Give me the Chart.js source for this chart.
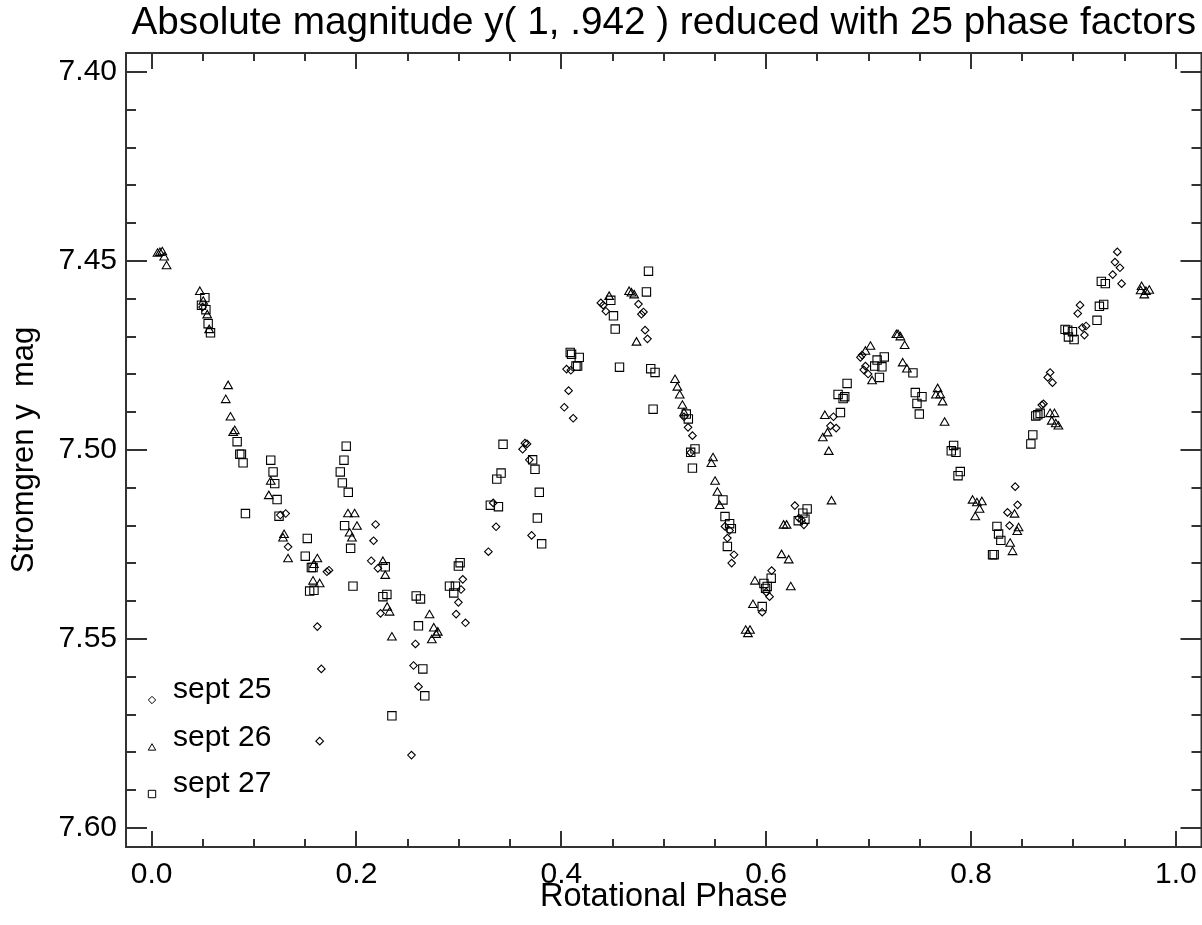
<!DOCTYPE html>
<html><head><meta charset="utf-8">
<script src="https://cdn.jsdelivr.net/npm/chart.js@4.4.1/dist/chart.umd.min.js"></script>
<style>html,body{margin:0;padding:0;background:#fff;}canvas{display:block;}</style>
</head><body>
<canvas id="c" width="1202" height="925"></canvas>
<script>
// ---- data: [rotational phase, Stromgren y mag] ----
const sept25 = [
[0.0497,7.4622],[0.1257,7.5172],[0.1309,7.5168],[0.1332,7.5256],[0.1712,7.5322],[0.1732,7.5318],
[0.1618,7.5467],[0.1657,7.5579],[0.1641,7.5770],[0.2187,7.5197],[0.2167,7.5240],[0.2144,7.5293],
[0.2209,7.5313],[0.2235,7.5432],[0.2576,7.5513],[0.2557,7.5570],[0.2606,7.5626],[0.2537,7.5807],
[0.3038,7.5342],[0.3021,7.5369],[0.2995,7.5403],[0.2973,7.5434],[0.3064,7.5457],[0.3288,7.5269],
[0.3335,7.5140],[0.3363,7.5203],[0.3645,7.4982],[0.3622,7.4998],[0.3665,7.4984],[0.3688,7.5026],
[0.3710,7.5226],[0.4051,7.4786],[0.4093,7.4789],[0.4071,7.4843],[0.4029,7.4887],[0.4116,7.4916],
[0.4386,7.4611],[0.4409,7.4617],[0.4435,7.4633],[0.4753,7.4614],[0.4782,7.4641],[0.4802,7.4635],
[0.4818,7.4683],[0.4841,7.4706],[0.5198,7.4912],[0.5237,7.4940],[0.5280,7.4962],[0.5263,7.5007],
[0.5598,7.5202],[0.5643,7.5213],[0.5621,7.5233],[0.5686,7.5277],[0.5663,7.5299],[0.5961,7.5429],
[0.6000,7.5376],[0.6033,7.5388],[0.6053,7.5319],[0.6280,7.5147],[0.6319,7.5180],[0.6345,7.5185],
[0.6368,7.5198],[0.6657,7.4912],[0.6627,7.4936],[0.6683,7.4942],[0.6920,7.4755],[0.6936,7.4749],
[0.6969,7.4778],[0.6995,7.4799],[0.6952,7.4788],[0.8431,7.5097],[0.8454,7.5145],[0.8356,7.5165],
[0.8376,7.5200],[0.8691,7.4881],[0.8707,7.4878],[0.8749,7.4808],[0.8772,7.4795],[0.8795,7.4822],
[0.9064,7.4617],[0.9042,7.4639],[0.9087,7.4676],[0.9123,7.4672],[0.9107,7.4696],[0.9428,7.4476],
[0.9405,7.4503],[0.9454,7.4518],[0.9383,7.4536],[0.9470,7.4560]
];
const sept26 = [
[0.0058,7.4481],[0.0081,7.4479],[0.0104,7.4477],[0.0123,7.4491],[0.0146,7.4514],[0.0471,7.4582],
[0.0504,7.4608],[0.0543,7.4644],[0.0562,7.4683],[0.0747,7.4831],[0.0724,7.4868],[0.0770,7.4914],
[0.0796,7.4955],[0.0812,7.4950],[0.1163,7.5084],[0.1144,7.5122],[0.1293,7.5225],[0.1283,7.5234],
[0.1332,7.5289],[0.1618,7.5289],[0.1585,7.5304],[0.1576,7.5348],[0.1641,7.5355],[0.1917,7.5170],
[0.1982,7.5170],[0.2005,7.5203],[0.1933,7.5221],[0.1956,7.5234],[0.2258,7.5296],[0.2281,7.5333],
[0.2300,7.5417],[0.2323,7.5430],[0.2346,7.5496],[0.2713,7.5437],[0.2755,7.5472],[0.2794,7.5483],
[0.2778,7.5489],[0.2736,7.5503],[0.4467,7.4595],[0.4662,7.4582],[0.4685,7.4586],[0.4711,7.4591],
[0.4734,7.4716],[0.5110,7.4815],[0.5133,7.4835],[0.5156,7.4856],[0.5182,7.4883],[0.5198,7.4903],
[0.5481,7.5022],[0.5465,7.5037],[0.5501,7.5084],[0.5524,7.5113],[0.5546,7.5148],[0.5800,7.5478],
[0.5842,7.5478],[0.5822,7.5487],[0.5871,7.5410],[0.5890,7.5348],[0.6150,7.5278],[0.6220,7.5292],
[0.6240,7.5363],[0.6170,7.5200],[0.6199,7.5200],[0.6638,7.5136],[0.6573,7.4910],[0.6553,7.4969],
[0.6611,7.5005],[0.6599,7.4956],[0.6969,7.4740],[0.7018,7.4727],[0.7034,7.4818],[0.7271,7.4696],
[0.7287,7.4696],[0.7310,7.4702],[0.7352,7.4725],[0.7333,7.4771],[0.7374,7.4787],[0.7674,7.4839],
[0.7657,7.4856],[0.7700,7.4855],[0.7722,7.4874],[0.7742,7.4928],[0.8015,7.5134],[0.8057,7.5141],
[0.8106,7.5138],[0.8083,7.5158],[0.8041,7.5178],[0.8425,7.5171],[0.8464,7.5207],[0.8451,7.5217],
[0.8382,7.5248],[0.8405,7.5270],[0.8772,7.4905],[0.8814,7.4905],[0.8788,7.4925],[0.8827,7.4932],
[0.8853,7.4938],[0.9665,7.4569],[0.9656,7.4580],[0.9708,7.4582],[0.9740,7.4579],[0.9691,7.4591]
];
const sept27 = [
[0.0520,7.4597],[0.0487,7.4617],[0.0530,7.4629],[0.0552,7.4666],[0.0575,7.4690],[0.0835,7.4978],
[0.0861,7.5011],[0.0877,7.5011],[0.0893,7.5034],[0.0916,7.5168],[0.1163,7.5027],[0.1186,7.5058],
[0.1202,7.5089],[0.1225,7.5131],[0.1244,7.5175],[0.1520,7.5234],[0.1500,7.5281],[0.1560,7.5311],
[0.1576,7.5311],[0.1543,7.5373],[0.1585,7.5371],[0.1900,7.4990],[0.1878,7.5027],[0.1842,7.5058],
[0.1862,7.5087],[0.1920,7.5112],[0.1884,7.5200],[0.1943,7.5260],[0.1966,7.5360],[0.2281,7.5309],
[0.2258,7.5388],[0.2297,7.5382],[0.2346,7.5703],[0.2583,7.5386],[0.2625,7.5394],[0.2605,7.5465],
[0.2648,7.5579],[0.2667,7.5650],[0.2908,7.5360],[0.2966,7.5360],[0.2950,7.5378],[0.2995,7.5307],
[0.3012,7.5298],[0.3307,7.5146],[0.3386,7.5150],[0.3370,7.5077],[0.3412,7.5061],[0.3431,7.4985],
[0.3720,7.5026],[0.3743,7.5051],[0.3785,7.5112],[0.3766,7.5180],[0.3808,7.5248],[0.4087,7.4742],
[0.4100,7.4747],[0.4175,7.4755],[0.4143,7.4778],[0.4159,7.4778],[0.4483,7.4604],[0.4509,7.4645],
[0.4526,7.4680],[0.4568,7.4781],[0.4851,7.4527],[0.4831,7.4582],[0.4873,7.4785],[0.4915,7.4795],
[0.4896,7.4892],[0.5220,7.4905],[0.5240,7.4918],[0.5305,7.4997],[0.5263,7.5006],[0.5280,7.5048],
[0.5578,7.5132],[0.5598,7.5176],[0.5643,7.5195],[0.5660,7.5208],[0.5621,7.5255],[0.5961,7.5414],
[0.5978,7.5353],[0.6010,7.5361],[0.5994,7.5366],[0.6049,7.5339],[0.6400,7.5156],[0.6358,7.5167],
[0.6313,7.5187],[0.6378,7.5183],[0.6725,7.4901],[0.6702,7.4853],[0.6751,7.4864],[0.6767,7.4859],
[0.6790,7.4824],[0.7083,7.4762],[0.7060,7.4778],[0.7130,7.4780],[0.7153,7.4754],[0.7106,7.4808],
[0.7433,7.4796],[0.7456,7.4848],[0.7521,7.4859],[0.7472,7.4877],[0.7495,7.4905],[0.7830,7.4988],
[0.7807,7.5002],[0.7853,7.5006],[0.7895,7.5057],[0.7873,7.5068],[0.8253,7.5202],[0.8269,7.5222],
[0.8291,7.5239],[0.8210,7.5277],[0.8226,7.5277],[0.8584,7.4984],[0.8603,7.4960],[0.8632,7.4910],
[0.8652,7.4907],[0.8675,7.4903],[0.8918,7.4681],[0.8944,7.4683],[0.8990,7.4687],[0.8951,7.4701],
[0.9006,7.4708],[0.9230,7.4657],[0.9253,7.4620],[0.9295,7.4615],[0.9272,7.4554],[0.9311,7.4560]
];
const seriesLabels = ['sept 25', 'sept 26', 'sept 27'];
const xTicks = [0.0, 0.2, 0.4, 0.6, 0.8, 1.0];
const yTicks = [7.40, 7.45, 7.50, 7.55, 7.60];
const titleText = 'Absolute magnitude y( 1, .942 ) reduced with 25 phase factors';
const xTitle = 'Rotational Phase';
const yTitle = 'Stromgren y  mag';

const FONT = "'Liberation Sans', Arial, Helvetica, sans-serif";
const INK = '#000';
const AXIS = '#333';

function drawMarker(ctx, style, x, y) {
  ctx.beginPath();
  if (style === 'rectRot') {
    const r = 3.7;
    ctx.moveTo(x, y - r); ctx.lineTo(x + r, y); ctx.lineTo(x, y + r); ctx.lineTo(x - r, y); ctx.closePath();
  } else if (style === 'triangle') {
    const r = 4.3;
    ctx.moveTo(x, y - r);
    ctx.lineTo(x + r * 0.866, y + r * 0.5);
    ctx.lineTo(x - r * 0.866, y + r * 0.5);
    ctx.closePath();
  } else {
    const h = 3.7;
    ctx.rect(x - h, y - h, 2 * h, 2 * h);
  }
  ctx.stroke();
}

const framePlugin = {
  id: 'frame',
  afterDatasetsDraw(chart) {
    const { ctx, chartArea: a, scales: { x, y } } = chart;
    ctx.save();
    ctx.strokeStyle = AXIS;
    ctx.lineWidth = 2;
    ctx.strokeRect(a.left, a.top, a.right - a.left, a.bottom - a.top);
    ctx.beginPath();
    // x ticks: minor every 0.05, major every 0.2
    for (let i = 0; i <= 20; i++) {
      const px = Math.round(x.getPixelForValue(i * 0.05));
      const L = (i % 4 === 0) ? 16 : 8;
      ctx.moveTo(px, a.bottom); ctx.lineTo(px, a.bottom - L);
      ctx.moveTo(px, a.top); ctx.lineTo(px, a.top + L);
    }
    // y ticks: minor every 0.01, major every 0.05
    for (let i = 0; i <= 20; i++) {
      const py = Math.round(y.getPixelForValue(7.40 + i * 0.01));
      const L = (i % 5 === 0) ? 21 : 10;
      ctx.moveTo(a.left, py); ctx.lineTo(a.left + L, py);
      ctx.moveTo(a.right, py); ctx.lineTo(a.right - L, py);
    }
    ctx.stroke();

    // in-plot legend (bottom left)
    const styles = ['rectRot', 'triangle', 'rect'];
    const offs = [147, 99, 53];
    ctx.strokeStyle = INK;
    ctx.lineWidth = 1;
    ctx.fillStyle = INK;
    ctx.font = '30px ' + FONT;
    ctx.textBaseline = 'alphabetic';
    ctx.textAlign = 'left';
    seriesLabels.forEach((lab, i) => {
      const my = a.bottom - offs[i];
      drawMarker(ctx, styles[i], a.left + 26, my);
      ctx.fillText(lab, a.left + 47, my - 2);
    });
    ctx.restore();
  }
};

const mk = arr => arr.map(([p, m]) => ({ x: p, y: m }));
const common = { borderColor: INK, backgroundColor: 'rgba(0,0,0,0)', borderWidth: 1.1, showLine: false, hoverRadius: 0 };

new Chart(document.getElementById('c'), {
  type: 'scatter',
  data: {
    datasets: [
      Object.assign({ label: seriesLabels[0], data: mk(sept25), pointStyle: 'rectRot', pointRadius: 3.8 }, common),
      Object.assign({ label: seriesLabels[1], data: mk(sept26), pointStyle: 'triangle', pointRadius: 5 }, common),
      Object.assign({ label: seriesLabels[2], data: mk(sept27), pointStyle: 'rect', pointRadius: 5.9 }, common)
    ]
  },
  options: {
    responsive: false,
    animation: false,
    devicePixelRatio: 1,
    layout: { autoPadding: false, padding: { left: 0, right: 0.5, top: 0, bottom: 0 } },
    plugins: {
      legend: { display: false },
      tooltip: { enabled: false },
      title: {
        display: true, text: titleText, fullSize: false, color: INK,
        font: { family: FONT, size: 38.7, weight: 'normal', lineHeight: 1 },
        padding: { top: 3.5, bottom: 10.8 }
      }
    },
    scales: {
      x: {
        type: 'linear', position: 'bottom', min: -0.025, max: 1.025,
        grid: { display: false, drawTicks: true, tickLength: 10 },
        border: { display: false },
        ticks: {
          color: INK, padding: 0, autoSkip: false, maxRotation: 0, includeBounds: false,
          font: { family: FONT, size: 30, lineHeight: 1.2 },
          callback: v => Number(v).toFixed(1)
        },
        title: {
          display: true, text: xTitle, color: INK,
          font: { family: FONT, size: 32.5, lineHeight: 1.2 },
          padding: { top: 0, bottom: 8 }
        },
        afterBuildTicks: s => { s.ticks = xTicks.map(v => ({ value: v })); },
        afterFit: s => { s.height = 78; s.paddingLeft = 0; s.paddingRight = 0; }
      },
      y: {
        type: 'linear', position: 'left', reverse: true, min: 7.395, max: 7.605,
        grid: { display: false, drawTicks: true, tickLength: 9 },
        border: { display: false },
        ticks: {
          color: INK, padding: 0, autoSkip: false, includeBounds: false,
          font: { family: FONT, size: 30, lineHeight: 1.2 },
          callback: v => Number(v).toFixed(2)
        },
        title: {
          display: true, text: yTitle, color: INK,
          font: { family: FONT, size: 31, lineHeight: 1.2 },
          padding: { top: 6, bottom: 0 }
        },
        afterBuildTicks: s => { s.ticks = yTicks.map(v => ({ value: v })); },
        afterFit: s => { s.width = 126; s.paddingTop = 0; s.paddingBottom = 0; }
      }
    }
  },
  plugins: [framePlugin]
});
</script>
</body></html>
